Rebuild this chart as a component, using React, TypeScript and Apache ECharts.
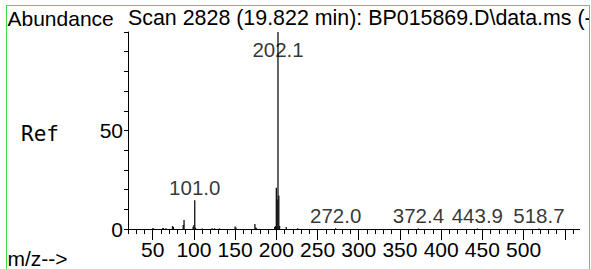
import React, { useEffect, useRef } from "react";
import * as echarts from "echarts";

// Spectrum peaks (m/z, relative abundance %)
const peakMz = [50, 51, 62, 63, 66, 74, 75, 87, 88, 99, 100, 101, 102, 110, 122, 125, 131, 150, 151, 174, 175, 176, 198, 199, 200, 201, 202, 203, 204, 212, 226, 272.0, 372.4, 443.9, 518.7];
const peakAbund = [0.4, 0.3, 0.4, 0.5, 0.4, 1.5, 1.0, 2.0, 4.6, 1.2, 2.0, 14.6, 0.6, 0.3, 0.4, 0.4, 0.3, 1.3, 0.7, 2.6, 0.8, 0.4, 1.0, 1.5, 21, 15, 100, 17, 1.5, 1.0, 0.4, 0.4, 0.3, 0.3, 0.3];

// Labelled peaks
const labelMz = [101.0, 202.1, 272.0, 372.4, 443.9, 518.7];
const labelText = ["101.0", "202.1", "272.0", "372.4", "443.9", "518.7"];
const labelAbund = [14.6, 100, 0.4, 0.3, 0.3, 0.3];

// Axis ticks
const xMinorTicks = [20, 30, 40, 50, 60, 70, 80, 90, 100, 110, 120, 130, 140, 150, 160, 170, 180, 190, 200, 210, 220, 230, 240, 250, 260, 270, 280, 290, 300, 310, 320, 330, 340, 350, 360, 370, 380, 390, 400, 410, 420, 430, 440, 450, 460, 470, 480, 490, 500, 510, 520, 530, 540, 550, 560];
const xMajorTicks = [50, 100, 150, 200, 250, 300, 350, 400, 450, 500, 550];
const xTickLabels = [50, 100, 150, 200, 250, 300, 350, 400, 450, 500];
const yTicks = [0, 10, 20, 30, 40, 50, 60, 70, 80, 90, 100];
const yTickLabels = [0, 50];

const titleText = "Scan 2828 (19.822 min): BP015869.D\\data.ms (-";
const FONT = "'Liberation Sans', Arial, sans-serif";

export default function App() {
  const ref = useRef<HTMLDivElement>(null);
  useEffect(() => {
    if (!ref.current) return;
    const chart = echarts.init(ref.current, null, { renderer: "svg" });
    const bars = peakMz.map((m, i) => [m, peakAbund[i]]);
    const labels = labelMz.map((m, i) => {
      const item: any = { value: [m, labelAbund[i]], name: labelText[i] };
      if (labelAbund[i] >= 100) {
        item.label = { position: "bottom", distance: 7 };
      }
      return item;
    });
    chart.setOption({
      animation: false,
      grid: { left: 121, width: 451.6, top: 26, height: 197 },
      xAxis: [
        {
          type: "value",
          min: 20,
          max: 568,
          axisLine: { show: true, lineStyle: { color: "#000", width: 1 } },
          axisTick: { show: true, customValues: xMinorTicks, length: 5, lineStyle: { color: "#000" } },
          axisLabel: { show: false },
          splitLine: { show: false },
        },
        {
          type: "value",
          position: "bottom",
          min: 20,
          max: 568,
          axisLine: { show: false },
          axisTick: { show: true, customValues: xMajorTicks, length: 11, lineStyle: { color: "#000" } },
          axisLabel: {
            show: true,
            customValues: xTickLabels,
            fontSize: 21,
            fontFamily: FONT,
            color: "#000",
            margin: 10,
          },
          splitLine: { show: false },
        },
      ],
      yAxis: {
        type: "value",
        min: 0,
        max: 100,
        axisLine: { show: true, lineStyle: { color: "#000", width: 1 } },
        axisTick: { show: true, customValues: yTicks, length: 4, lineStyle: { color: "#000" } },
        axisLabel: {
          show: true,
          customValues: yTickLabels,
          fontSize: 21,
          fontFamily: FONT,
          color: "#000",
          margin: 5,
        },
        splitLine: { show: false },
      },
      series: [
        {
          type: "bar",
          xAxisIndex: 0,
          data: bars,
          barWidth: 1.3,
          itemStyle: { color: "#111" },
          silent: true,
        },
        {
          type: "scatter",
          xAxisIndex: 0,
          data: labels,
          symbolSize: 0,
          silent: true,
          label: {
            show: true,
            position: "top",
            distance: 2,
            formatter: (p: any) => p.name,
            fontSize: 20.5,
            fontFamily: FONT,
            color: "#000",
          },
        },
      ],
      graphic: [
        {
          type: "text",
          x: 0.5,
          y: 12,
          style: { text: "Abundance", font: `21px ${FONT}`, fill: "#000", textAlign: "left", textVerticalAlign: "middle" },
        },
        {
          type: "text",
          x: 121,
          y: 12,
          style: { text: titleText, font: `21.4px ${FONT}`, fill: "#000", textAlign: "left", textVerticalAlign: "middle" },
        },
        {
          type: "text",
          x: 14,
          y: 128,
          style: { text: "Ref", font: "21px 'DejaVu Sans Mono', monospace", fill: "#000", textAlign: "left", textVerticalAlign: "middle" },
        },
        {
          type: "text",
          x: 0.5,
          y: 252,
          style: { text: "m/z-->", font: `21px ${FONT}`, fill: "#000", textAlign: "left", textVerticalAlign: "middle" },
        },
      ],
    });
    return () => chart.dispose();
  }, []);
  return (
    <div
      style={{
        position: "absolute",
        left: 6,
        top: 5,
        width: 582,
        height: 266,
        border: "1px solid #44e044",
        overflow: "hidden",
      }}
    >
      <div ref={ref} style={{ width: 582, height: 266 }} />
    </div>
  );
}
